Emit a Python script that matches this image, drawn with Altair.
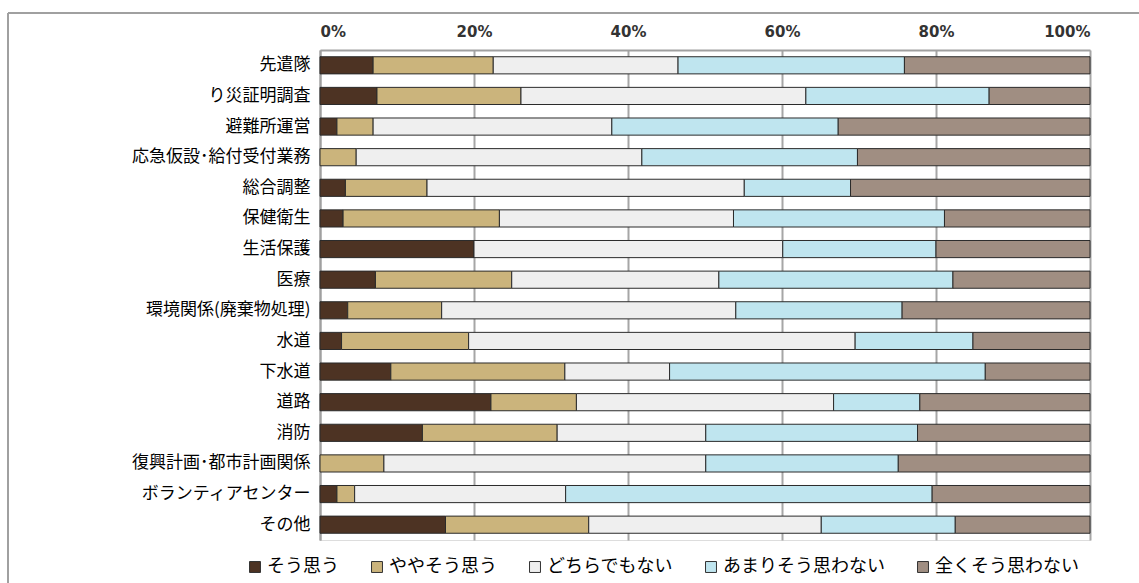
import altair as alt
import pandas as pd

categories = ["先遣隊", "り災証明調査", "避難所運営", "応急仮設･給付受付業務", "総合調整", "保健衛生",
              "生活保護", "医療", "環境関係(廃棄物処理)", "水道", "下水道", "道路", "消防",
              "復興計画･都市計画関係", "ボランティアセンター", "その他"]
series = ["そう思う", "ややそう思う", "どちらでもない", "あまりそう思わない", "全くそう思わない"]
sou =     [6.9, 7.4, 2.2, 0.0, 3.3, 3.0, 20.0, 7.2, 3.6, 2.8, 9.2, 22.2, 13.3, 0.0, 2.2, 16.3]
yaya =    [15.6, 18.7, 4.7, 4.7, 10.6, 20.3, 0.0, 17.7, 12.2, 16.5, 22.6, 11.1, 17.5, 8.3, 2.3, 18.6]
dochira = [24.0, 37.0, 31.0, 37.1, 41.2, 30.4, 40.1, 26.9, 38.2, 50.2, 13.6, 33.4, 19.3, 41.8, 27.4, 30.2]
amari =   [29.4, 23.8, 29.4, 28.0, 13.8, 27.4, 19.9, 30.4, 21.6, 15.3, 41.0, 11.2, 27.5, 25.0, 47.6, 17.4]
mattaku = [24.1, 13.1, 32.7, 30.2, 31.1, 18.9, 20.0, 17.8, 24.4, 15.2, 13.6, 22.1, 22.4, 24.9, 20.5, 17.5]
colors = ["#4d3323", "#cbb47c", "#efefef", "#bfe5ef", "#a08e82"]

rows = []
for si, (name, vals) in enumerate(zip(series, [sou, yaya, dochira, amari, mattaku])):
    for c, v in zip(categories, vals):
        if v > 0:
            rows.append({"category": c, "series": name, "value": v, "order": si})
df = pd.DataFrame(rows)

FONT_JP = "Noto Sans CJK JP"

bars = alt.Chart(df).mark_bar(stroke="#2b2b2b", strokeWidth=1).encode(
    y=alt.Y("category:N", sort=categories, title=None,
            scale=alt.Scale(paddingInner=0.44, paddingOuter=0.22),
            axis=alt.Axis(labelFont=FONT_JP, labelFontSize=17, labelColor="#000000",
                          labelPadding=10, ticks=False, domain=True, domainColor="#a0a0a0",
                          domainWidth=2, labelLimit=320)),
    x=alt.X("value:Q", stack="normalize", title=None,
            scale=alt.Scale(domain=[0, 1]),
            axis=alt.Axis(orient="top", format=".0%", values=[0, 0.2, 0.4, 0.6, 0.8, 1.0],
                          labelFont="DejaVu Sans", labelFontSize=15, labelFontWeight="bold",
                          labelColor="#333333", labelPadding=11, ticks=False,
                          domain=True, domainColor="#a0a0a0", domainWidth=2,
                          grid=True, gridColor="#a6a6a6", gridWidth=2)),
    color=alt.Color("series:N", sort=series, title=None,
                    scale=alt.Scale(domain=series, range=colors),
                    legend=alt.Legend(orient="none", legendX=-74, legendY=508, direction="horizontal",
                                      symbolType="square", symbolSize=120, symbolStrokeColor="#333333",
                                      symbolStrokeWidth=1, labelFont=FONT_JP, labelFontSize=18,
                                      labelColor="#000000", columnPadding=29, symbolOffset=0,
                                      labelOffset=3, labelLimit=300)),
    order=alt.Order("order:Q"),
)

frame_top = alt.Chart(df).mark_rule(color="#a0a0a0", strokeWidth=2).encode(
    x=alt.value(-312), x2=alt.value(830), y=alt.value(-37))
frame_left = alt.Chart(df).mark_rule(color="#a0a0a0", strokeWidth=2).encode(
    x=alt.value(-312), y=alt.value(-37), y2=alt.value(540))

chart = alt.layer(bars, frame_top, frame_left).properties(
    width=770, height=490,
    autosize=alt.AutoSizeParams(type="none"),
    padding={"left": 320, "top": 50, "right": 49, "bottom": 43},
).configure_view(stroke=None).configure(background="#ffffff")

chart.save("out.html", embed_options={"renderer": "svg", "actions": False})
